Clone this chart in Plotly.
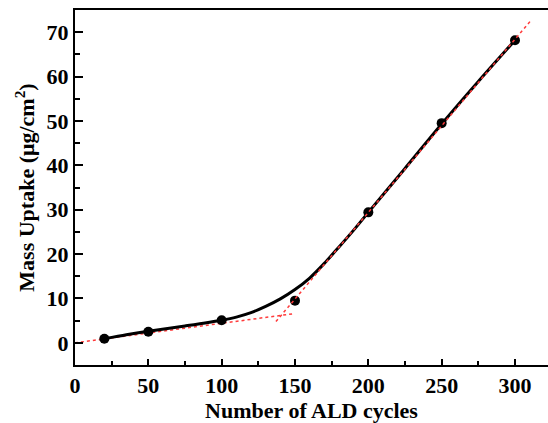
import plotly.graph_objects as go

# Measured data points
cycles = [20, 50, 100, 150, 200, 250, 300]
uptake = [0.9, 2.5, 5.1, 9.5, 29.4, 49.5, 68.2]

# Smooth black curve
curve_x = [20, 35, 50, 75, 100, 110, 120, 130, 140, 150, 160, 170, 180, 190, 200, 225, 250, 275, 300]
curve_y = [0.9, 1.8, 2.6, 3.8, 5.1, 5.8, 6.8, 8.2, 9.9, 12.0, 14.6, 17.9, 21.6, 25.4, 29.4, 39.3, 49.3, 58.9, 68.2]

# Red dotted linear fits
fit1_x = [0, 150]
fit1_y = [0.0, 6.6]
fit2_x = [137, 311]
fit2_y = [4.8, 72.7]

font_family = "Liberation Serif"

fig = go.Figure()
fig.add_trace(go.Scatter(x=fit1_x, y=fit1_y, mode="lines",
                         line=dict(color="#ff3b3b", width=1.5, dash="dot"), showlegend=False))
fig.add_trace(go.Scatter(x=curve_x, y=curve_y, mode="lines",
                         line=dict(color="black", width=3, shape="spline", smoothing=0.8), showlegend=False))
fig.add_trace(go.Scatter(x=cycles, y=uptake, mode="markers",
                         marker=dict(color="black", size=10), showlegend=False))
fig.add_trace(go.Scatter(x=fit2_x, y=fit2_y, mode="lines",
                         line=dict(color="#ff3b3b", width=1.5, dash="dot"), showlegend=False))

fig.update_layout(
    width=548, height=423,
    margin=dict(l=75, r=0, t=10, b=58),
    plot_bgcolor="white", paper_bgcolor="white",
    font=dict(family=font_family, color="black", size=22),
    xaxis=dict(
        range=[0, 322.5], tickmode="array", tickvals=[0, 50, 100, 150, 200, 250, 300],
        ticks="inside", ticklen=6, tickwidth=2, tickcolor="black",
        minor=dict(tickvals=[25, 75, 125, 175, 225, 275], ticks="inside", ticklen=4, tickwidth=2, tickcolor="black"),
        showline=True, linecolor="black", linewidth=2, mirror=True,
        showgrid=False, zeroline=False, automargin=False,
        tickfont=dict(family=font_family, size=22, color="black", weight="bold"),
        title=dict(text="<b>Number of ALD cycles</b>", font=dict(family=font_family, size=22), standoff=13),
    ),
    yaxis=dict(
        range=[-5, 75], tickmode="array", tickvals=[0, 10, 20, 30, 40, 50, 60, 70],
        ticks="inside", ticklen=8, tickwidth=2, tickcolor="black",
        minor=dict(tickvals=[5, 15, 25, 35, 45, 55, 65], ticks="inside", ticklen=5, tickwidth=2, tickcolor="black"),
        showline=True, linecolor="black", linewidth=2, mirror=False,
        showgrid=False, zeroline=False, automargin=False,
        tickfont=dict(family=font_family, size=22, color="black", weight="bold"),
        title=dict(text="<b>Mass Uptake (μg/cm<sup>2</sup>)</b>", font=dict(family=font_family, size=22), standoff=6),
    ),
)

fig.write_html("out.html")
